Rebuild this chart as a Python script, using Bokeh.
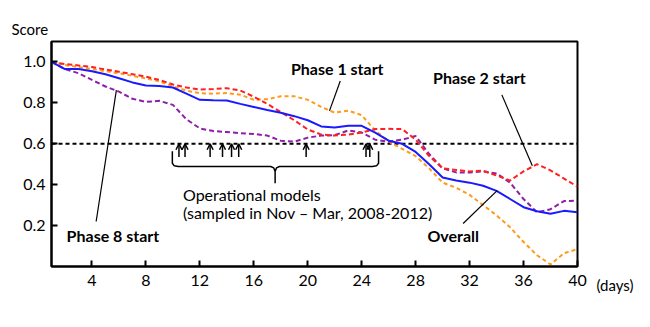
from bokeh.plotting import figure
from bokeh.models import (Range1d, FixedTicker, Label, Arrow, OpenHead, ColumnDataSource,
                          PrintfTickFormatter, LinearAxis)
from bokeh.embed import file_html
from bokeh.resources import INLINE

days = list(range(1, 41))
overall = [1.00, 0.965, 0.965, 0.955, 0.94, 0.92, 0.90, 0.885, 0.883, 0.875,
           0.845, 0.815, 0.813, 0.812, 0.795, 0.78, 0.765, 0.752, 0.735, 0.715,
           0.685, 0.68, 0.688, 0.688, 0.655, 0.615, 0.60, 0.56, 0.50, 0.435,
           0.42, 0.41, 0.395, 0.37, 0.33, 0.29, 0.27, 0.258, 0.272, 0.265]
phase2 = [1.0, 0.99, 0.983, 0.975, 0.963, 0.952, 0.94, 0.928, 0.912, 0.89,
          0.875, 0.865, 0.868, 0.872, 0.86, 0.83, 0.795, 0.755, 0.715, 0.67,
          0.645, 0.64, 0.645, 0.655, 0.672, 0.673, 0.672, 0.62, 0.54, 0.48,
          0.472, 0.465, 0.468, 0.445, 0.42, 0.465, 0.50, 0.47, 0.43, 0.39]
phase1 = [1.0, 0.985, 0.975, 0.965, 0.955, 0.945, 0.932, 0.92, 0.905, 0.88,
          0.86, 0.847, 0.845, 0.848, 0.84, 0.815, 0.818, 0.832, 0.832, 0.815,
          0.78, 0.752, 0.762, 0.74, 0.665, 0.61, 0.575, 0.54, 0.48, 0.41,
          0.385, 0.35, 0.30, 0.25, 0.192, 0.12, 0.055, 0.01, 0.065, 0.085]
phase8 = [1.0, 0.965, 0.945, 0.912, 0.88, 0.855, 0.82, 0.805, 0.81, 0.79,
          0.72, 0.675, 0.662, 0.657, 0.652, 0.648, 0.64, 0.615, 0.61, 0.63,
          0.64, 0.642, 0.665, 0.655, 0.62, 0.61, 0.62, 0.638, 0.55, 0.48,
          0.46, 0.46, 0.465, 0.455, 0.41, 0.33, 0.265, 0.28, 0.32, 0.322]

threshold = 0.6
model_days = [10.45, 10.9, 12.76, 13.68, 14.35, 14.88, 19.88, 24.32, 24.6]
arrow_tail = 0.535
arrow_head = 0.600

x_ticks = [4, 8, 12, 16, 20, 24, 28, 32, 36, 40]
y_ticks = [0.2, 0.4, 0.6, 0.8, 1.0]

brace_x = [9.96, 9.96, 10.1, 10.4, 17.25, 17.48, 17.58, 17.58, 17.58, 17.68, 17.9, 24.8, 25.1, 25.25, 25.25]
brace_y = [0.564, 0.505, 0.492, 0.489, 0.489, 0.482, 0.465, 0.407, 0.465, 0.482, 0.489, 0.489, 0.492, 0.505, 0.564]

leaders = {
    "phase1": ([22.41, 21.61], [0.907, 0.761]),
    "phase2": ([34.39, 36.65], [0.839, 0.493]),
    "phase8": ([4.31, 5.81], [0.22, 0.862]),
    "overall": ([31.52, 34.04], [0.21, 0.371]),
}

FONT = "Lato"

p = figure(width=650, height=327, output_backend="svg", toolbar_location=None,
           x_range=Range1d(1, 40), y_range=Range1d(0, 1.1),
           min_border_left=51, min_border_right=73, min_border_top=41, min_border_bottom=61)
p.background_fill_color = "white"
p.border_fill_color = "white"
p.xgrid.visible = False
p.ygrid.visible = False
p.outline_line_color = "black"
p.outline_line_width = 2

# "Score" as the plot title, pulled left over the y tick labels
p.title.text = "Score"
p.title.align = "left"
p.title.offset = -40
p.title.standoff = 8
p.title.text_font = FONT
p.title.text_font_size = "15px"
p.title.text_font_style = "normal"
p.title.text_color = "black"

for ax in (p.xaxis, p.yaxis):
    ax.axis_line_width = 2
    ax.axis_line_color = "black"
    ax.major_tick_in = 6
    ax.major_tick_out = 0
    ax.major_tick_line_width = 2
    ax.minor_tick_line_color = None
    ax.major_label_text_font = FONT
    ax.major_label_text_font_size = "16px"
    ax.major_label_text_color = "black"
p.xaxis.ticker = FixedTicker(ticks=x_ticks)
p.yaxis.ticker = FixedTicker(ticks=y_ticks)
p.yaxis.formatter = PrintfTickFormatter(format="%.1f")
p.xaxis.major_label_standoff = 8
p.yaxis.major_label_standoff = 6

# "(days)" unit label via an auxiliary right axis with a single tick at the frame bottom
p.extra_y_ranges = {"aux": Range1d(0, 1)}
aux = LinearAxis(y_range_name="aux", ticker=FixedTicker(ticks=[0]),
                 major_label_overrides={0: "\n\n(days)"},
                 axis_line_color=None, major_tick_line_color=None, minor_tick_line_color=None,
                 major_label_standoff=13, major_label_text_font=FONT,
                 major_label_text_line_height=1.0,
                 major_label_text_font_size="15px", major_label_text_color="black")
p.add_layout(aux, "right")

# threshold line
p.line([1, 40], [threshold, threshold], line_color="black", line_width=1.8, line_dash="4 3")

p.line(days, phase1, line_color="#ff9a1a", line_width=2, line_dash="4 3")
p.line(days, phase8, line_color="#8e1fa8", line_width=2, line_dash="5 3")
p.line(days, phase2, line_color="#ff2020", line_width=2, line_dash="5 3")
p.line(days, overall, line_color="#1a1aff", line_width=2)

# arrows
src = ColumnDataSource(dict(x=model_days, y0=[arrow_tail] * len(model_days), y1=[arrow_head] * len(model_days)))
p.add_layout(Arrow(end=OpenHead(size=6, line_width=1.5, line_color="black"),
                   x_start="x", y_start="y0", x_end="x", y_end="y1",
                   line_width=1.5, line_color="black", source=src))

p.line(brace_x, brace_y, line_color="black", line_width=1.5)

for k, (xs, ys) in leaders.items():
    p.line(xs, ys, line_color="black", line_width=1.2)

def lab(x, y, t, bold=True, size="16px"):
    p.add_layout(Label(x=x, y=y, text=t, text_font=FONT, text_font_size=size,
                       text_font_style="bold" if bold else "normal",
                       text_baseline="middle", text_align="left", text_color="black"))

lab(18.75, 0.969, "Phase 1 start")
lab(29.29, 0.925, "Phase 2 start")
lab(2.12, 0.153, "Phase 8 start")
lab(28.87, 0.153, "Overall")
lab(10.75, 0.35, "Operational models", bold=False)
lab(10.75, 0.262, "(sampled in Nov \u2013 Mar, 2008-2012)", bold=False)

open("out.html", "w").write(file_html(p, INLINE))
